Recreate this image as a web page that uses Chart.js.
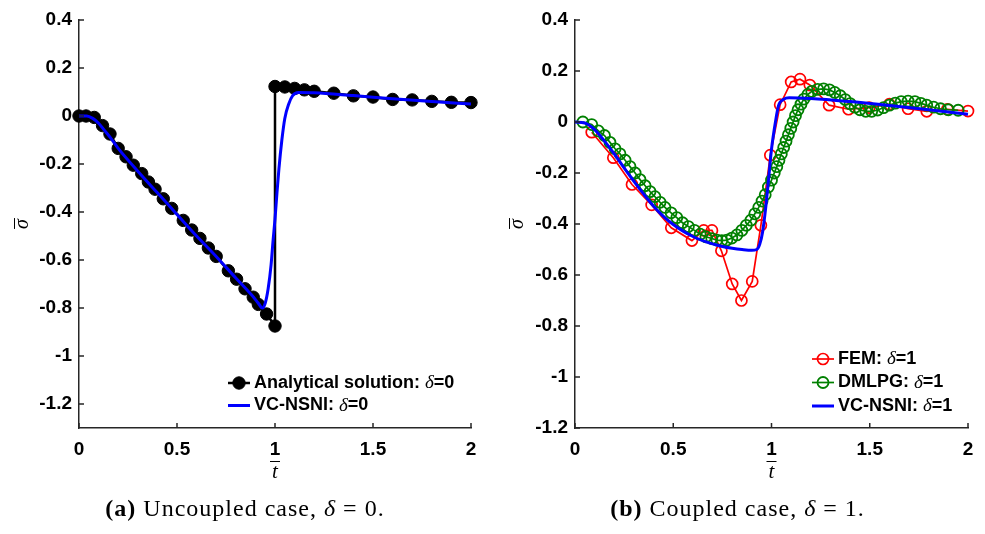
<!DOCTYPE html>
<html>
<head>
<meta charset="utf-8">
<title>Stress history</title>
<script src="https://cdn.jsdelivr.net/npm/chart.js@4.4.0/dist/chart.umd.min.js"></script>
<style>
  body { margin: 0; background: #fff; }
  .panel { position: absolute; top: 0; }
</style>
</head>
<body>
<div class="panel" style="left:0"><canvas id="chartA" width="490" height="534"></canvas></div>
<div class="panel" style="left:490px"><canvas id="chartB" width="495" height="534"></canvas></div>
<script>
// ---- tick labels ----
const timeTicks = [0, 0.5, 1, 1.5, 2];
const stressTicksA = [0.4, 0.2, 0, -0.2, -0.4, -0.6, -0.8, -1, -1.2];
const stressTicksB = [0.4, 0.2, 0, -0.2, -0.4, -0.6, -0.8, -1, -1.2];

// ---- (a) uncoupled, delta = 0 ----
const exactT = [0, 0.036, 0.078, 0.12, 0.158, 0.2, 0.24, 0.277, 0.32, 0.354, 0.388, 0.43, 0.473,
  0.532, 0.575, 0.617, 0.66, 0.70, 0.762, 0.804, 0.847, 0.889, 0.915, 0.957, 1.0,
  1.0, 1.05, 1.1, 1.15, 1.2, 1.3, 1.4, 1.5, 1.6, 1.7, 1.8, 1.9, 2.0];
const exactS = [0, 0, -0.006, -0.04, -0.075, -0.135, -0.17, -0.205, -0.24, -0.275, -0.305, -0.345, -0.385,
  -0.435, -0.475, -0.51, -0.55, -0.585, -0.645, -0.68, -0.72, -0.755, -0.785, -0.825, -0.875,
  0.123, 0.121, 0.115, 0.109, 0.103, 0.095, 0.084, 0.079, 0.069, 0.067, 0.061, 0.057, 0.056];

const nsniAT = [0, 0.04, 0.07, 0.1, 0.13, 0.16, 0.2, 0.3, 0.4, 0.5, 0.6, 0.7, 0.8, 0.88, 0.915, 0.935,
  0.95, 0.965, 0.98, 0.99, 1.0, 1.01, 1.02, 1.035, 1.05, 1.07, 1.09, 1.12, 1.2, 1.4, 1.6, 1.8, 2.0];
const nsniAS = [0, 0, -0.01, -0.03, -0.06, -0.09, -0.135, -0.23, -0.32, -0.41, -0.5, -0.585, -0.675, -0.745, -0.78, -0.80,
  -0.78, -0.72, -0.62, -0.52, -0.43, -0.32, -0.22, -0.1, -0.01, 0.05, 0.085, 0.098, 0.097, 0.085, 0.072, 0.06, 0.05];

// ---- (b) coupled, delta = 1 ----
const femT = [0.085, 0.195, 0.29, 0.39, 0.49, 0.595, 0.655, 0.697, 0.745, 0.80, 0.847, 0.902, 0.946, 0.994,
  1.044, 1.10, 1.145, 1.195, 1.293, 1.392, 1.497, 1.6, 1.695, 1.79, 1.895, 2.0];
const femS = [-0.04, -0.14, -0.245, -0.325, -0.415, -0.465, -0.425, -0.425, -0.505, -0.635, -0.70, -0.625, -0.405, -0.13,
  0.068, 0.157, 0.168, 0.145, 0.066, 0.05, 0.056, 0.07, 0.052, 0.042, 0.05, 0.043];

const dmlpgT = [0.04, 0.085, 0.119, 0.15, 0.178, 0.204, 0.229, 0.255, 0.28, 0.306, 0.331, 0.357, 0.382, 0.407,
  0.433, 0.458, 0.489, 0.518, 0.547, 0.577, 0.608, 0.637, 0.666, 0.696, 0.722, 0.747, 0.773, 0.798, 0.824,
  0.849, 0.872, 0.895, 0.915, 0.935, 0.952, 0.968, 0.984, 1.0, 1.014, 1.027, 1.038, 1.05, 1.062, 1.074,
  1.086, 1.098, 1.11, 1.122, 1.135, 1.15, 1.165, 1.185, 1.205, 1.235, 1.265, 1.295, 1.322, 1.35, 1.375,
  1.4, 1.425, 1.45, 1.48, 1.51, 1.54, 1.57, 1.6, 1.63, 1.66, 1.695, 1.73, 1.76, 1.79, 1.825, 1.86, 1.9, 1.95];
const dmlpgS = [0, -0.01, -0.035, -0.053, -0.08, -0.105, -0.125, -0.15, -0.175, -0.2, -0.226, -0.25, -0.273, -0.293,
  -0.315, -0.335, -0.356, -0.375, -0.395, -0.41, -0.425, -0.44, -0.45, -0.457, -0.463, -0.465, -0.463, -0.455, -0.443,
  -0.425, -0.405, -0.385, -0.36, -0.335, -0.31, -0.285, -0.255, -0.228, -0.2, -0.175, -0.15, -0.125, -0.1, -0.075,
  -0.05, -0.025, 0.0, 0.025, 0.048, 0.07, 0.09, 0.108, 0.12, 0.128, 0.13, 0.126, 0.116, 0.103, 0.088,
  0.072, 0.058, 0.048, 0.042, 0.042, 0.047, 0.056, 0.066, 0.074, 0.08, 0.082, 0.08, 0.073, 0.066, 0.058, 0.052, 0.048, 0.046];

const nsniBT = [0, 0.05, 0.1, 0.15, 0.2, 0.25, 0.3, 0.35, 0.4, 0.45, 0.5, 0.55, 0.6, 0.65, 0.7, 0.75, 0.8, 0.85, 0.9,
  0.925, 0.94, 0.955, 0.97, 0.985, 1.0, 1.02, 1.036, 1.06, 1.09, 1.2, 1.4, 1.6, 1.8, 2.0];
const nsniBS = [0, -0.004, -0.03, -0.075, -0.125, -0.18, -0.233, -0.283, -0.33, -0.37, -0.402, -0.428, -0.449, -0.465,
  -0.478, -0.488, -0.495, -0.5, -0.503, -0.5, -0.48, -0.43, -0.34, -0.225, -0.107, 0.0, 0.065, 0.088, 0.095, 0.092,
  0.08, 0.065, 0.048, 0.03];

const namesA = ['Analytical solution', 'VC-NSNI'];
const namesB = ['FEM', 'DMLPG', 'VC-NSNI'];

const axisColor = '#262626';
const tickFont = { family: '"Liberation Sans", Arial, sans-serif', size: 19, weight: 'bold' };
const sansBold = 'bold 18px "Liberation Sans", Arial, sans-serif';
const greek = 'italic 19px "Liberation Serif", serif';
const captionFont = '24px "Liberation Serif", serif';

function points(ts, ss) {
    return ts.map((t, i) => ({ x: t, y: ss[i] }));
}

function formatTick(v) {
    return String(Math.round(v * 10) / 10);
}

// Writes a list of {text, font} pieces one after another, returns the width
function drawRuns(ctx, x, y, runs, measureOnly) {
    let w = 0;
    runs.forEach(r => {
        ctx.font = r.font;
        if (!measureOnly) ctx.fillText(r.text, x + w, y);
        w += ctx.measureText(r.text).width;
    });
    return w;
}

/**
 * Inward tick marks, axis labels, legend and caption
 */
const decorPlugin = {
    id: 'decor',
    afterDraw(chart, args, opts) {
        const { ctx, chartArea: area, scales: { x, y } } = chart;
        ctx.save();

        // tick marks pointing into the plot
        ctx.strokeStyle = axisColor;
        ctx.lineWidth = 1.5;
        ctx.beginPath();
        x.ticks.forEach(t => {
            const px = x.getPixelForValue(t.value);
            ctx.moveTo(px, area.bottom);
            ctx.lineTo(px, area.bottom - 5);
        });
        y.ticks.forEach(t => {
            const py = y.getPixelForValue(t.value);
            ctx.moveTo(area.left, py);
            ctx.lineTo(area.left + 5, py);
        });
        ctx.stroke();

        // x label: t with a bar
        ctx.fillStyle = '#000';
        ctx.textBaseline = 'alphabetic';
        ctx.textAlign = 'left';
        const cx = (area.left + area.right) / 2;
        ctx.font = 'italic 21px "Liberation Serif", serif';
        const tw = ctx.measureText('t').width;
        ctx.fillText('t', cx - tw / 2, 478);
        ctx.lineWidth = 1;
        ctx.strokeStyle = '#000';
        ctx.beginPath();
        ctx.moveTo(cx - 5, 461.5);
        ctx.lineTo(cx + 5, 461.5);
        ctx.stroke();

        // y label: sigma with a bar, rotated
        ctx.save();
        ctx.translate(opts.yLabelX, (area.top + area.bottom) / 2);
        ctx.rotate(-Math.PI / 2);
        ctx.font = 'italic 20px "Liberation Serif", serif';
        const sw = ctx.measureText('σ').width;
        ctx.fillText('σ', -sw / 2, 6);
        ctx.beginPath();
        ctx.moveTo(-sw / 2, -7.5);
        ctx.lineTo(sw / 2 + 1, -7.5);
        ctx.stroke();
        ctx.restore();

        // legend
        ctx.textBaseline = 'middle';
        opts.legend.forEach((row, i) => {
            const ds = chart.data.datasets[row.dataset];
            const ly = opts.legendY + i * opts.legendGap;
            const x0 = opts.legendX, x1 = opts.legendX + 22, xm = (x0 + x1) / 2;
            ctx.strokeStyle = ds.borderColor;
            ctx.lineWidth = ds.borderWidth;
            ctx.beginPath();
            ctx.moveTo(x0, ly);
            ctx.lineTo(x1, ly);
            ctx.stroke();
            if (ds.pointRadius > 0) {
                ctx.beginPath();
                ctx.arc(xm, ly, ds.pointRadius, 0, Math.PI * 2);
                ctx.fillStyle = ds.pointBackgroundColor;
                ctx.fill();
                ctx.lineWidth = ds.pointBorderWidth;
                ctx.strokeStyle = ds.pointBorderColor;
                ctx.stroke();
            }
            ctx.fillStyle = '#000';
            drawRuns(ctx, x1 + 4, ly, [
                { text: row.name + ': ', font: sansBold },
                { text: 'δ', font: greek },
                { text: '=' + opts.delta, font: sansBold }
            ]);
        });

        // caption
        ctx.textBaseline = 'alphabetic';
        ctx.letterSpacing = '1px';
        const runs = [
            { text: opts.tag, font: 'bold ' + captionFont },
            { text: ' ' + opts.caption + ', ', font: captionFont },
            { text: 'δ', font: 'italic ' + captionFont },
            { text: ' = ' + opts.delta + '.', font: captionFont }
        ];
        const w = drawRuns(ctx, 0, 0, runs, true);
        drawRuns(ctx, opts.captionX - w / 2, 516, runs);

        ctx.restore();
    }
};

function makeScales(yMin, yTicks) {
    return {
        x: {
            type: 'linear', min: 0, max: 2,
            afterFit: s => { s.height = 106; },
            afterBuildTicks: s => { s.ticks = timeTicks.map(v => ({ value: v })); },
            grid: { display: false, drawTicks: false },
            border: { display: true, color: axisColor, width: 1.5 },
            ticks: { color: '#000', font: tickFont, padding: 10, maxRotation: 0, autoSkip: false, callback: formatTick }
        },
        y: {
            type: 'linear', min: yMin, max: 0.4,
            afterFit: s => { s.width = 79; },
            afterBuildTicks: s => { s.ticks = yTicks.map(v => ({ value: v })); },
            grid: { display: false, drawTicks: false },
            border: { display: true, color: axisColor, width: 1.5 },
            ticks: { color: '#000', font: tickFont, padding: 7, autoSkip: false, callback: formatTick }
        }
    };
}

const baseOptions = {
    responsive: false,
    animation: false,
    events: [],
    plugins: { legend: { display: false }, tooltip: { enabled: false } }
};

// (a) uncoupled case
new Chart(document.getElementById('chartA'), {
    type: 'line',
    data: {
        datasets: [
            {
                label: namesA[0], data: points(exactT, exactS), order: 1,
                borderColor: '#000', borderWidth: 2.5, tension: 0,
                pointRadius: 6.2, pointBackgroundColor: '#000', pointBorderColor: '#000', pointBorderWidth: 1,
                clip: false
            },
            {
                label: namesA[1], data: points(nsniAT, nsniAS), order: 0,
                borderColor: '#0000ff', borderWidth: 3, cubicInterpolationMode: 'monotone',
                pointRadius: 0, clip: false
            }
        ]
    },
    options: {
        ...baseOptions,
        layout: { padding: { top: 20, right: 19, bottom: 0, left: 0 } },
        scales: makeScales(-1.3, stressTicksA),
        plugins: {
            ...baseOptions.plugins,
            decor: {
                yLabelX: 22, legendX: 228, legendY: 383, legendGap: 22.5,
                legend: [{ dataset: 0, name: namesA[0] }, { dataset: 1, name: namesA[1] }],
                delta: '0', tag: '(a)', caption: 'Uncoupled case', captionX: 245
            }
        }
    },
    plugins: [decorPlugin]
});

// (b) coupled case
new Chart(document.getElementById('chartB'), {
    type: 'line',
    data: {
        datasets: [
            {
                label: namesB[0], data: points(femT, femS), order: 2,
                borderColor: '#ff0000', borderWidth: 1.7, tension: 0,
                pointRadius: 5.5, pointBackgroundColor: 'rgba(0,0,0,0)', pointBorderColor: '#ff0000', pointBorderWidth: 1.7,
                clip: false
            },
            {
                label: namesB[1], data: points(dmlpgT, dmlpgS), order: 1,
                borderColor: '#008000', borderWidth: 1.7, tension: 0,
                pointRadius: 5.5, pointBackgroundColor: 'rgba(0,0,0,0)', pointBorderColor: '#008000', pointBorderWidth: 1.8,
                clip: false
            },
            {
                label: namesB[2], data: points(nsniBT, nsniBS), order: 0,
                borderColor: '#0000ff', borderWidth: 3, cubicInterpolationMode: 'monotone',
                pointRadius: 0, clip: false
            }
        ]
    },
    options: {
        ...baseOptions,
        layout: { padding: { top: 20, right: 17, bottom: 0, left: 6 } },
        scales: makeScales(-1.2, stressTicksB),
        plugins: {
            ...baseOptions.plugins,
            decor: {
                yLabelX: 27, legendX: 322, legendY: 359, legendGap: 23.5,
                legend: [{ dataset: 0, name: namesB[0] }, { dataset: 1, name: namesB[1] }, { dataset: 2, name: namesB[2] }],
                delta: '1', tag: '(b)', caption: 'Coupled case', captionX: 247.5
            }
        }
    },
    plugins: [decorPlugin]
});
</script>
</body>
</html>
